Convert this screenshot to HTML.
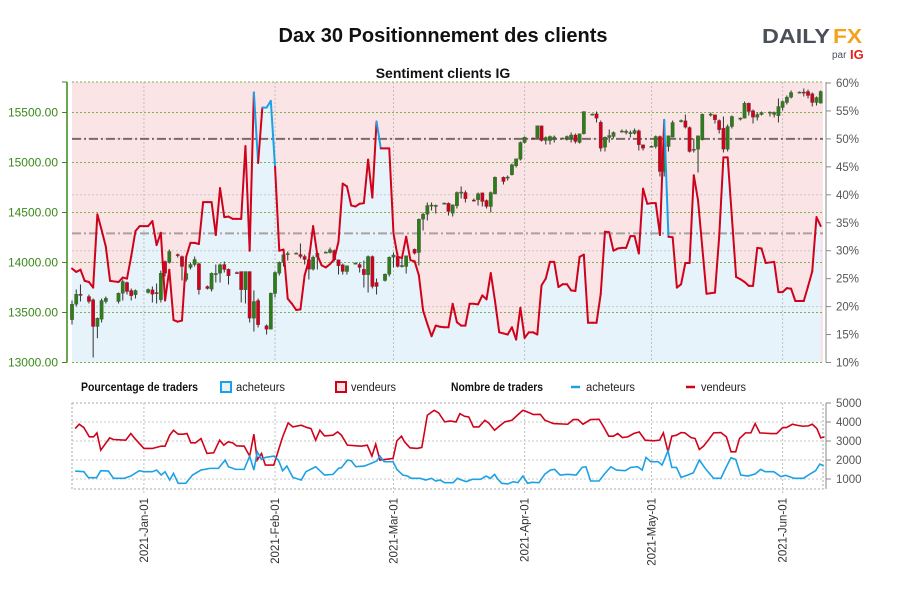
<!DOCTYPE html>
<html><head><meta charset="utf-8"><style>
body{margin:0;background:#fff;width:900px;height:600px;overflow:hidden}
svg{font-family:"Liberation Sans",sans-serif}
</style></head><body>
<svg id="chart" width="900" height="600" viewBox="0 0 900 600" xmlns="http://www.w3.org/2000/svg">
<text x="443" y="42" text-anchor="middle" font-size="20" font-weight="bold" fill="#111">Dax 30 Positionnement des clients</text>
<g>
<text x="762" y="43" font-size="20" font-weight="bold" fill="#4a4f5a" textLength="68" lengthAdjust="spacingAndGlyphs">DAILY</text>
<text x="833" y="43" font-size="20" font-weight="bold" fill="#f5a21b" textLength="29" lengthAdjust="spacingAndGlyphs">FX</text>
<text x="832" y="58" font-size="10" fill="#4a4f5a">par</text>
<text x="850" y="59" font-size="13" font-weight="bold" fill="#e2231a">IG</text>
</g>
<text x="443" y="78" text-anchor="middle" font-size="14" font-weight="bold" fill="#111">Sentiment clients IG</text>
<g id="main"></g>
<g id="legend">
<text x="81" y="391" font-size="11.5" font-weight="bold" fill="#111" textLength="117" lengthAdjust="spacingAndGlyphs">Pourcentage de traders</text>
<rect x="221" y="382" width="10" height="10" fill="#e6f3fb" stroke="#1da1e6" stroke-width="2"/>
<text x="236" y="391" font-size="11.5" fill="#222" textLength="49" lengthAdjust="spacingAndGlyphs">acheteurs</text>
<rect x="336" y="382" width="10" height="10" fill="#fbe4e5" stroke="#d0021b" stroke-width="2"/>
<text x="351" y="391" font-size="11.5" fill="#222" textLength="45" lengthAdjust="spacingAndGlyphs">vendeurs</text>
<text x="451" y="391" font-size="11.5" font-weight="bold" fill="#111" textLength="92" lengthAdjust="spacingAndGlyphs">Nombre de traders</text>
<line x1="571" y1="387" x2="580" y2="387" stroke="#1da1e6" stroke-width="2.5"/>
<text x="586" y="391" font-size="11.5" fill="#222" textLength="49" lengthAdjust="spacingAndGlyphs">acheteurs</text>
<line x1="686" y1="387" x2="695" y2="387" stroke="#d0021b" stroke-width="2.5"/>
<text x="701" y="391" font-size="11.5" fill="#222" textLength="45" lengthAdjust="spacingAndGlyphs">vendeurs</text>
</g>
<g id="lower"></g>
</svg>
<script>
const pct=[26.8,26.2,26.6,24.6,24.4,23.4,36.5,33.7,30.7,24.6,24.5,24.4,25.2,25,29,33.5,34.4,34.4,34.4,35.3,31,33.2,21.1,26.6,17.6,17.3,17.5,28.9,31.4,31.4,31.2,38.7,38.7,38.7,32.8,41.2,36.0,36.1,35.7,35.7,35.7,48.7,30,58.3,45.7,55.6,55.6,56.8,45,30,30.2,21.4,20.5,19.4,19.5,25.6,28.3,34.4,29.2,27.4,27,27.6,28.5,31.6,42,41.5,38.1,37.9,38.4,38.5,46.3,39.5,53.1,48.3,48.3,48.3,33.1,28.9,28.7,32.5,28.3,28.1,25.6,19.3,16.9,14.7,16.6,16.4,16.3,16.3,20.5,17.2,16.6,16.6,20.5,20.5,20.4,22,21.3,26,21,15.4,15.2,15,16.3,14.1,19.8,14.4,15.4,15.4,15,23.8,25,28,28,23.5,24,24,22.9,22.8,28.9,29.3,17.1,17.1,17.1,22.3,33.4,33.3,30,30.4,30.5,30.5,32.6,32.6,29.5,41.1,38.4,38.5,38.5,32.8,53.4,32.5,32.4,23.4,24,27.8,27.8,43.5,39,30.6,22.3,22.4,22.5,32.5,46.7,46.7,36,25.3,24.9,24.4,23.7,23.7,30.5,30.4,27.8,27.9,28,22.6,22.6,23.3,23.2,21,21,21,23.6,26.3,36,34.4];
const refLevels=[50,33.1];
const cDay=[0,1,2,4,5,6,7,8,11,12,13,14,15,18,19,20,21,22,23,25,26,27,28,29,30,32,33,34,35,36,37,39,40,41,42,43,44,46,47,48,49,50,51,53,54,55,56,57,58,60,61,62,63,64,65,67,68,69,70,71,72,74,75,76,77,78,79,81,82,83,84,85,86,88,89,90,91,92,93,95,96,97,98,99,100,102,103,104,105,106,107,109,110,111,112,113,114,116,117,118,119,120,121,123,124,125,126,127,128,130,131,132,133,134,135,137,138,139,140,141,142,144,145,146,147,148,149,151,152,153,154,155,156,158,159,160,161,162,163,165,166,167,168,169,170,172,173,174,175,176,177];
const cOpen=[13427,13583,13683,13660,13627,13360,13433,13610,13610,13693,13800,13720,13677,13700,13727,13700,13627,14010,14000,14080,14060,13830,13950,13980,13987,13760,13733,13880,13893,13980,13933,13900,13910,13727,13910,13443,13620,13367,13333,13690,13893,14000,14080,14090,14080,14060,14027,13933,14053,14100,14100,14120,14027,13977,13910,13990,13980,13933,13877,14060,13800,13820,13883,14053,14060,13960,13960,14133,14100,14433,14483,14570,14570,14590,14593,14493,14567,14700,14700,14625,14627,14697,14620,14560,14687,14853,14850,14877,14967,15033,15200,15245,15243,15367,15220,15220,15230,15240,15240,15240,15275,15200,15287,15480,15487,15403,15153,15250,15260,15310,15310,15290,15290,15317,15177,15160,15160,15260,14910,15160,15253,15415,15417,15350,15125,15133,15227,15480,15477,15420,15343,15133,15360,15440,15443,15593,15517,15453,15480,15500,15480,15467,15550,15600,15653,15700,15705,15710,15687,15600,15593];
const cClose=[13583,13683,13670,13610,13360,13443,13620,13643,13693,13810,13710,13667,13720,13730,13683,13690,13893,13893,14110,14070,13960,13890,13980,14030,13727,13740,13893,13890,13977,13930,13867,13895,13727,13910,13443,13610,13377,13333,13693,13900,14000,14077,14090,14095,14060,14030,13933,14053,14093,14105,14127,14027,13967,13910,13967,13995,13950,13877,14060,13760,13760,13883,14053,14075,13960,13970,14067,14093,14433,14483,14570,14575,14572,14595,14510,14577,14700,14705,14637,14620,14687,14610,14560,14700,14853,14810,14855,14977,15037,15200,15253,15243,15367,15220,15250,15260,15255,15245,15260,15275,15210,15287,15510,15485,15443,15143,15253,15270,15300,15315,15312,15300,15320,15177,15143,15163,15260,14910,15160,15267,15400,15420,15353,15110,15133,15267,15483,15485,15427,15327,15133,15360,15460,15445,15593,15510,15453,15480,15500,15505,15500,15560,15610,15653,15700,15705,15700,15670,15600,15650,15710];
const cHigh=[13620,13730,13780,13680,13640,13450,13640,13660,13700,13830,13810,13740,13730,13740,13760,13790,13920,14020,14130,14090,14070,14040,14000,14060,14000,13770,13900,13980,13990,14010,13940,13910,13910,13910,13910,13720,13640,13380,13700,13910,14010,14090,14110,14100,14190,14080,14100,14070,14100,14110,14150,14130,14030,13990,13970,14000,14000,14020,14070,14070,13840,13890,14060,14100,14100,14040,14070,14140,14440,14500,14600,14600,14580,14600,14600,14580,14710,14760,14720,14640,14700,14700,14630,14710,14860,14860,14870,14990,15040,15210,15260,15250,15370,15370,15260,15270,15270,15250,15270,15300,15290,15290,15510,15490,15510,15420,15260,15330,15310,15330,15330,15320,15340,15330,15180,15170,15270,15270,15350,15270,15420,15430,15480,15360,15240,15270,15490,15500,15480,15430,15460,15380,15470,15450,15610,15600,15530,15500,15510,15510,15510,15640,15620,15670,15720,15710,15740,15730,15700,15660,15720];
const cLow=[13380,13560,13610,13590,13050,13243,13400,13590,13590,13620,13680,13620,13640,13690,13600,13590,13600,13860,13990,14050,13820,13810,13930,13960,13680,13730,13710,13800,13800,13900,13780,13890,13600,13590,13400,13310,13350,13280,13330,13650,13870,13960,14020,14080,14040,13980,13830,13920,13930,14090,14090,14010,13880,13880,13880,13980,13900,13750,13700,13740,13680,13810,13860,13950,13950,13950,13890,14080,13970,14320,14420,14520,14490,14580,14470,14460,14540,14640,14600,14610,14570,14560,14540,14500,14680,14780,14820,14870,14950,15020,15190,15235,15240,15210,15180,15180,15200,15230,15220,15200,15190,15190,15280,15470,15400,15110,15110,15200,15240,15300,15280,15250,15280,15120,15120,15150,15140,14860,14860,15110,15250,15400,15340,15100,15100,14900,15220,15460,15390,15290,15100,15110,15340,15420,15440,15470,15390,15420,15470,15460,15450,15400,15520,15580,15640,15690,15660,15640,15560,15570,15590];
const priceTicks=[13000,13500,14000,14500,15000,15500];
const pctTicks=[10,15,20,25,30,35,40,45,50,55,60];
const dateTickDays=[17,48,76,107,137,168];
const dateTickLabels=["2021-Jan-01","2021-Feb-01","2021-Mar-01","2021-Apr-01","2021-May-01","2021-Jun-01"];
const sellDays=[0.75,1.7,2.8,4.1,5.1,5.9,6.8,8.9,9.8,12.7,13.9,15,17,19,21.1,22,23.1,24,25.1,26.2,27.2,28.1,29.2,30.5,31.9,33.5,34.9,35.9,36.9,38,38.9,40.7,42,43,43.8,44.8,45.7,47.7,49.8,51.1,52.2,54.2,55.6,56.5,57.6,58.6,59.7,61.7,62.8,63.7,65.1,68.4,69.8,70.9,71.8,72.8,74.1,75.9,76.8,77.9,78.6,79.9,81.6,82.7,84,85.6,86.7,88.1,89.4,90.8,91.7,92.8,93.8,94.9,96.2,97.6,98.5,99.9,101,102.3,104,105.7,106.6,107.7,109.1,110.7,111.8,113.8,117.2,118.5,119.6,120.8,122.6,124.6,125.6,126.9,128,129,130.1,131.4,132.8,134.1,135.5,137.5,138.9,139.8,140.9,141.8,142.9,144,144.9,146.3,147.3,148.3,149.3,150.4,151.7,153.4,154.7,155.8,156.9,157.8,159.2,160.5,161.5,162.6,165.3,166.6,168,168.9,170.3,171.4,172.7,174.1,175,176.1,177,177.9];
const sellVals=[3655,3882,3707,3218,3218,3428,2519,3166,3078,3043,3393,3096,2607,2607,2729,2729,3305,3567,3358,3358,3393,2904,2904,3131,2345,2380,3043,2781,2956,2904,2746,2729,2205,3358,1995,2345,1733,1733,3218,3952,3742,3830,3707,3655,3043,3567,3270,3305,3480,3305,2781,2729,2781,2205,2834,1995,2030,2083,3008,3253,2956,2642,2607,2660,4354,4616,4476,4004,4057,4004,4441,4301,4266,3742,3742,4092,3952,3567,3777,4004,4092,4441,4616,4528,4389,4406,4092,3917,3882,4127,4127,3882,4127,4144,3777,3253,3253,3393,3183,3218,3393,3480,3043,3008,3043,3428,2432,3253,3305,3445,3428,3183,3131,2554,2729,3043,3428,3445,3218,2432,2432,3131,3428,3428,3917,3428,3393,3393,3707,3707,3882,3830,3777,3795,3882,3655,3166,3218];
const buyDays=[0.75,2.8,3.9,5.8,6.8,8.6,9.8,12.3,13.9,15.9,17,19,20,21.1,22,23.1,24,25.1,26.9,28.5,30.5,32.6,34.6,36.2,37,38.7,40.7,42,43,43.8,44.8,45.7,47.7,48.8,49.8,50.8,52.2,54.2,55.3,57.6,59.7,61.7,63,63.7,65.1,66,67.1,69.1,71.1,72.1,72.8,73.8,75.9,76.8,78.2,79.3,80.2,82.3,83.6,85,86,87,88.1,90.1,91.1,92.1,93.2,94.6,96.6,97.9,98.9,99.9,100.7,101.6,103,104.3,105.4,106.6,107.7,108.7,110.4,111.8,113.1,114.1,115.4,117.2,119.2,120.6,121.5,122.6,124.6,126,127.4,128.7,130.8,132.1,133.7,134.8,135.7,136.8,138.6,139.5,140.9,141.8,142.9,144,145.6,146.9,148.3,150,151.7,153.4,154.7,155.8,156.9,158.1,159.8,161.5,162.8,163.9,165.9,167.6,168.7,169.6,170.7,172.9,174.7,175.8,176.8,177.7];
const buyVals=[1419,1384,1069,1069,1436,1419,1034,1034,1157,1436,1384,1384,1471,1209,1384,947,1296,773,773,1209,1471,1559,1559,1995,1646,1506,1506,2205,1471,2432,2030,2135,2205,1995,1436,1681,1087,947,1384,1646,1209,1244,1559,1594,1995,1960,1646,1681,1856,1960,2205,1908,1908,1506,1209,1157,1034,1034,947,1034,895,947,807,807,1034,947,860,982,982,1157,1034,1244,982,773,738,860,807,1157,773,825,807,1262,1471,1506,1209,1244,1209,1611,1646,895,895,1296,1646,1471,1436,1611,1646,1471,2135,1908,1908,1733,2484,1611,1611,1087,1209,1331,1995,1471,1034,1034,1646,2117,2030,1209,1157,1262,1506,1384,1384,1122,1192,1122,1034,1034,1296,1436,1786,1681];
const countTicks=[1000,2000,3000,4000,5000];

const NS="http://www.w3.org/2000/svg";
const L=72,R=823,T=82,B=362.5;
const xS=d=>72+d*4.23;
const yP=p=>362.5-(p-13000)*0.1;
const yPct=v=>83+(60-v)*5.59;
const LT=403,LB=489;
const yC=v=>403+(5000-v)*0.019;
function mk(parent,tag,attrs){const e=document.createElementNS(NS,tag);for(const k in attrs)e.setAttribute(k,attrs[k]);parent.appendChild(e);return e;}
const main=document.getElementById('main');
const lower=document.getElementById('lower');

let bg=mk(main,'rect',{x:L,y:T,width:R-L,height:B-T,fill:'#fbe4e5'});


let areaPts=pct.map((v,i)=>xS(i)+','+yPct(v)).join(' ');
areaPts+=' '+xS(pct.length-1)+','+B+' '+xS(0)+','+B;
let area=mk(main,'polygon',{points:areaPts,fill:'#e6f3fb'});


pctTicks.forEach(v=>{if(v%10===0&&v!==60&&v!==10){let g=mk(main,'line',{x1:L,x2:R,y1:yPct(v),y2:yPct(v),stroke:'#c8c8c8','stroke-dasharray':'2,2'});}});
priceTicks.forEach(p=>{let g=mk(main,'line',{x1:L,x2:R,y1:yP(p),y2:yP(p),stroke:'#7fb24a','stroke-dasharray':'2,2'});});
let topg=mk(main,'line',{x1:L,x2:R,y1:T,y2:T,stroke:'#7fb24a','stroke-dasharray':'2,2'});


dateTickDays.forEach(d=>{let g=mk(main,'line',{x1:xS(d),x2:xS(d),y1:T,y2:B,stroke:'#c0c0c0','stroke-dasharray':'2,2'});});
refLevels.forEach((v,i)=>{let g=mk(main,'line',{x1:L,x2:R,y1:yPct(v),y2:yPct(v),stroke:i===0?'#7a6a6a':'#aaa0a0','stroke-width':2,'stroke-dasharray':'9,3,2,3'});});
cDay.forEach((d,i)=>{const o=cOpen[i],c=cClose[i];const x=xS(d);const col=c>=o?'#2e7d1a':'#d0021b';
 const g=mk(main,'g',{});
 
 
 mk(g,'line',{x1:x,x2:x,y1:yP(cHigh[i]),y2:yP(cLow[i]),stroke:'#333','stroke-width':1});
 const top=yP(Math.max(o,c)),h=Math.max(1.2,Math.abs(yP(o)-yP(c)));
 mk(g,'rect',{x:x-1.7,y:top,width:3.4,height:h,fill:col,stroke:'#444','stroke-width':0.3});
});
for(let i=0;i<pct.length-1;i++){const s=mk(main,'line',{x1:xS(i),y1:yPct(pct[i]),x2:xS(i+1),y2:yPct(pct[i+1]),stroke:pct[i]>=50?'#1da1e6':'#d0021b','stroke-width':2,'stroke-linecap':'round'});
 
 }
let la=mk(main,'line',{x1:67,x2:67,y1:T,y2:B,stroke:'#3a8a1a','stroke-width':1.5});


priceTicks.forEach(p=>{mk(main,'line',{x1:62,x2:67,y1:yP(p),y2:yP(p),stroke:'#3a8a1a'});
 const t=mk(main,'text',{x:58,y:yP(p)+4,'text-anchor':'end','font-size':12,fill:'#3a8a1a'});t.textContent=p.toFixed(2);
 
 });
mk(main,'line',{x1:62,x2:67,y1:T,y2:T,stroke:'#3a8a1a'});
let ra=mk(main,'line',{x1:826,x2:826,y1:T,y2:B,stroke:'#888'});


pctTicks.forEach(v=>{mk(main,'line',{x1:826,x2:831,y1:yPct(v),y2:yPct(v),stroke:'#888'});
 const t=mk(main,'text',{x:836,y:yPct(v)+4,'font-size':11.5,fill:'#555'});t.textContent=v+'%';
 
 });

let box=mk(lower,'rect',{x:L,y:LT,width:R-L,height:LB-LT,fill:'none',stroke:'#aaa','stroke-dasharray':'2,2'});


countTicks.forEach(v=>{if(v<5000){let g=mk(lower,'line',{x1:L,x2:R,y1:yC(v),y2:yC(v),stroke:'#c8c8c8','stroke-dasharray':'2,2'});}
 mk(lower,'line',{x1:826,x2:831,y1:yC(v),y2:yC(v),stroke:'#888'});
 const t=mk(lower,'text',{x:836,y:yC(v)+4,'font-size':11.5,fill:'#555'});t.textContent=v;
 
 });
mk(lower,'line',{x1:826,x2:826,y1:LT,y2:LB,stroke:'#888'});
dateTickDays.forEach((d,i)=>{let g=mk(lower,'line',{x1:xS(d),x2:xS(d),y1:LT,y2:LB+5,stroke:'#c0c0c0','stroke-dasharray':'2,2'});
 const t=mk(lower,'text',{x:0,y:0,'text-anchor':'end','font-size':11.5,fill:'#333',transform:'translate('+(xS(d)+4)+',498) rotate(-90)'});t.textContent=dateTickLabels[i];
 
 });
let sp=mk(lower,'polyline',{points:sellDays.map((d,i)=>xS(d)+','+yC(sellVals[i])).join(' '),fill:'none',stroke:'#d0021b','stroke-width':1.6});


let bp=mk(lower,'polyline',{points:buyDays.map((d,i)=>xS(d)+','+yC(buyVals[i])).join(' '),fill:'none',stroke:'#1da1e6','stroke-width':1.6});


</script>
</body></html>
